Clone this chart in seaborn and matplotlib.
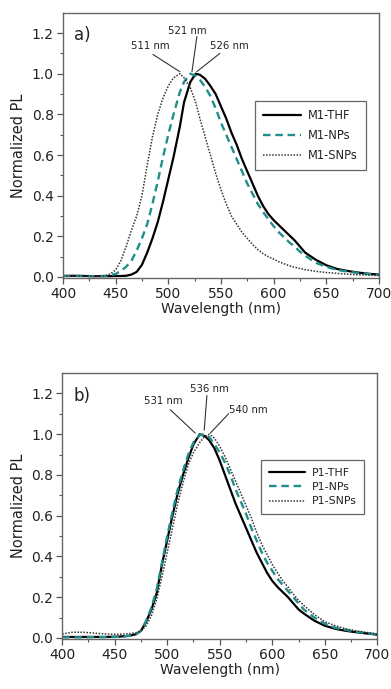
import numpy as np
import pandas as pd
import matplotlib
matplotlib.use("Agg")
import matplotlib.pyplot as plt
import seaborn as sns

# ---------------- data: panel a ----------------
wl_a = [400, 410, 420, 430, 440, 445, 450, 455, 460, 465, 470, 475, 480, 485, 490,
        495, 500, 505, 511, 515, 521, 526, 530, 535, 540, 545, 550, 555, 560, 565,
        570, 575, 580, 585, 590, 595, 600, 605, 610, 615, 620, 625, 630, 640, 650,
        660, 670, 680, 690, 700]
m1_thf = [.005, .006, .005, .004, .004, .004, .005, .005, .006, .012, .025, .06, .12, .19, .27,
          .37, .48, .59, .74, .86, .96, 1.0, .995, .975, .94, .90, .84, .78, .71, .65,
          .58, .52, .46, .40, .35, .31, .28, .255, .23, .205, .18, .15, .12, .085, .058,
          .04, .03, .022, .016, .012]
m1_nps = [.005, .005, .005, .004, .005, .008, .015, .03, .05, .08, .13, .19, .26, .36, .47,
          .59, .70, .80, .91, .96, 1.0, .99, .97, .935, .89, .83, .76, .70, .64, .58,
          .52, .46, .41, .36, .32, .285, .25, .22, .195, .17, .15, .125, .105, .07, .05,
          .035, .027, .02, .015, .01]
m1_snps = [.005, .005, .004, .004, .006, .015, .035, .08, .15, .23, .30, .40, .55, .69, .80,
           .88, .94, .98, 1.0, .98, .93, .86, .78, .69, .60, .51, .43, .36, .30, .26,
           .22, .19, .16, .135, .115, .10, .088, .075, .065, .055, .048, .042, .036, .028, .022,
           .018, .014, .011, .009, .008]
labels_a = ["M1-THF", "M1-NPs", "M1-SNPs"]
peaks_a = ["511 nm", "521 nm", "526 nm"]

# ---------------- data: panel b ----------------
wl_b = [400, 410, 420, 430, 440, 450, 455, 460, 465, 470, 475, 480, 485, 490, 495,
        500, 505, 510, 515, 520, 525, 531, 536, 540, 545, 550, 555, 560, 565, 570,
        575, 580, 585, 590, 595, 600, 605, 610, 615, 620, 625, 630, 640, 650, 660,
        670, 680, 690, 700]
p1_thf = [.005, .005, .005, .005, .005, .006, .007, .009, .012, .018, .035, .08, .14, .22, .36,
          .48, .60, .71, .80, .88, .95, 1.0, .99, .97, .93, .87, .80, .73, .66, .60,
          .54, .48, .42, .37, .32, .28, .25, .225, .20, .17, .14, .12, .085, .06, .045,
          .035, .028, .022, .016]
p1_nps = [.003, .003, .003, .004, .004, .005, .006, .008, .011, .017, .035, .085, .15, .24, .37,
          .50, .62, .73, .82, .90, .96, .995, 1.0, .985, .95, .91, .86, .80, .73, .67,
          .61, .54, .48, .42, .37, .33, .29, .26, .23, .20, .17, .14, .10, .07, .05,
          .04, .03, .023, .017]
p1_snps = [.02, .028, .028, .024, .02, .018, .018, .02, .022, .025, .035, .06, .11, .19, .30,
           .42, .54, .66, .76, .85, .91, .96, .99, 1.0, .98, .94, .89, .83, .77, .71,
           .65, .59, .52, .46, .41, .36, .32, .28, .25, .215, .185, .16, .115, .08, .06,
           .045, .035, .027, .02]
labels_b = ["P1-THF", "P1-NPs", "P1-SNPs"]
peaks_b = ["531 nm", "536 nm", "540 nm"]

xticks = [400, 450, 500, 550, 600, 650, 700]
yticks = [0.0, 0.2, 0.4, 0.6, 0.8, 1.0, 1.2]

sns.set_style("ticks")
plt.rcParams["font.family"] = ["DejaVu Sans"]

colors = ["black", "#1f8f8c", "#333333"]
styles = ["-", (0, (3.2, 2.0)), (0, (1.0, 1.0))]
widths = [1.6, 1.7, 1.1]

fig = plt.figure(figsize=(3.91, 6.89), dpi=100)
ax_a = fig.add_axes([0.161, 0.5965, 0.808, 0.385])
ax_b = fig.add_axes([0.159, 0.0726, 0.806, 0.386])


def draw(ax, wl, series, labels, panel, peaks, ann, leg_anchor, leg_fs, leg_sp):
    frames = []
    for lab, vals in zip(labels, series):
        frames.append(pd.DataFrame({"wl": wl, "pl": vals, "s": lab}))
    df = pd.concat(frames)
    for i, lab in enumerate(labels):
        sns.lineplot(data=df[df.s == lab], x="wl", y="pl", ax=ax, color=colors[i],
                     linestyle=styles[i], lw=widths[i], label=lab, estimator=None,
                     sort=True)
    ax.set_xlim(400, 700)
    ax.set_ylim(-0.005, 1.3)
    ax.set_xticks(xticks)
    ax.set_yticks(yticks)
    ax.set_yticklabels([f"{v:.1f}" for v in yticks])
    ax.set_xticks(np.arange(425, 700, 50), minor=True)
    ax.set_yticks(np.arange(0.1, 1.3, 0.2), minor=True)
    ax.tick_params(which="major", length=4.5, width=0.9, color="#555555",
                   labelsize=10, labelcolor="#222222", direction="out", pad=2)
    ax.tick_params(which="minor", length=2.5, width=0.8, color="#555555", direction="out")
    for sp in ax.spines.values():
        sp.set_color("#666666")
        sp.set_linewidth(1.0)
    ax.set_xlabel("Wavelength (nm)", fontsize=10, color="#222222", labelpad=1)
    ax.set_ylabel("Normalized PL", fontsize=10.5, color="#222222", labelpad=4)
    ax.text(0.035, 0.915, panel, transform=ax.transAxes, fontsize=12, color="#222222",
            va="center", ha="left")
    for txt, (tx, ty), (sx, sy), (ex, ey) in zip(peaks, *ann):
        ax.text(tx, ty, txt, fontsize=7.3, ha="center", va="center", color="#222222")
        ax.annotate("", xy=(ex, ey), xytext=(sx, sy),
                    arrowprops=dict(arrowstyle="-", lw=0.8, color="#333333",
                                    shrinkA=0, shrinkB=0))
    leg = ax.legend(loc="upper right", bbox_to_anchor=leg_anchor, fontsize=leg_fs,
                    frameon=True, fancybox=False, framealpha=1, edgecolor="#666666",
                    handlelength=3.3, borderpad=0.7, labelspacing=leg_sp,
                    handletextpad=0.6, borderaxespad=0)
    leg.get_frame().set_linewidth(0.9)
    for t in leg.get_texts():
        t.set_color("#222222")


ann_a = ([(482.6, 1.134), (517.7, 1.208), (558.5, 1.134)],
         [(485.4, 1.095), (527.2, 1.183), (549.0, 1.10)],
         [(511.0, 1.01), (522.5, 1.01), (527.0, 1.01)])
ann_b = ([(496.0, 1.161), (540.3, 1.223), (577.5, 1.12)],
         [(502.9, 1.12), (537.8, 1.19), (558.4, 1.10)],
         [(526.7, 1.005), (535.2, 1.02), (541.0, 1.005)])

draw(ax_a, wl_a, [m1_thf, m1_nps, m1_snps], labels_a, "a)", peaks_a, ann_a,
     (0.959, 0.668), 8.3, 0.6)
draw(ax_b, wl_b, [p1_thf, p1_nps, p1_snps], labels_b, "b)", peaks_b, ann_b,
     (0.959, 0.673), 7.9, 0.4)

fig.savefig("out.png", dpi=100)
